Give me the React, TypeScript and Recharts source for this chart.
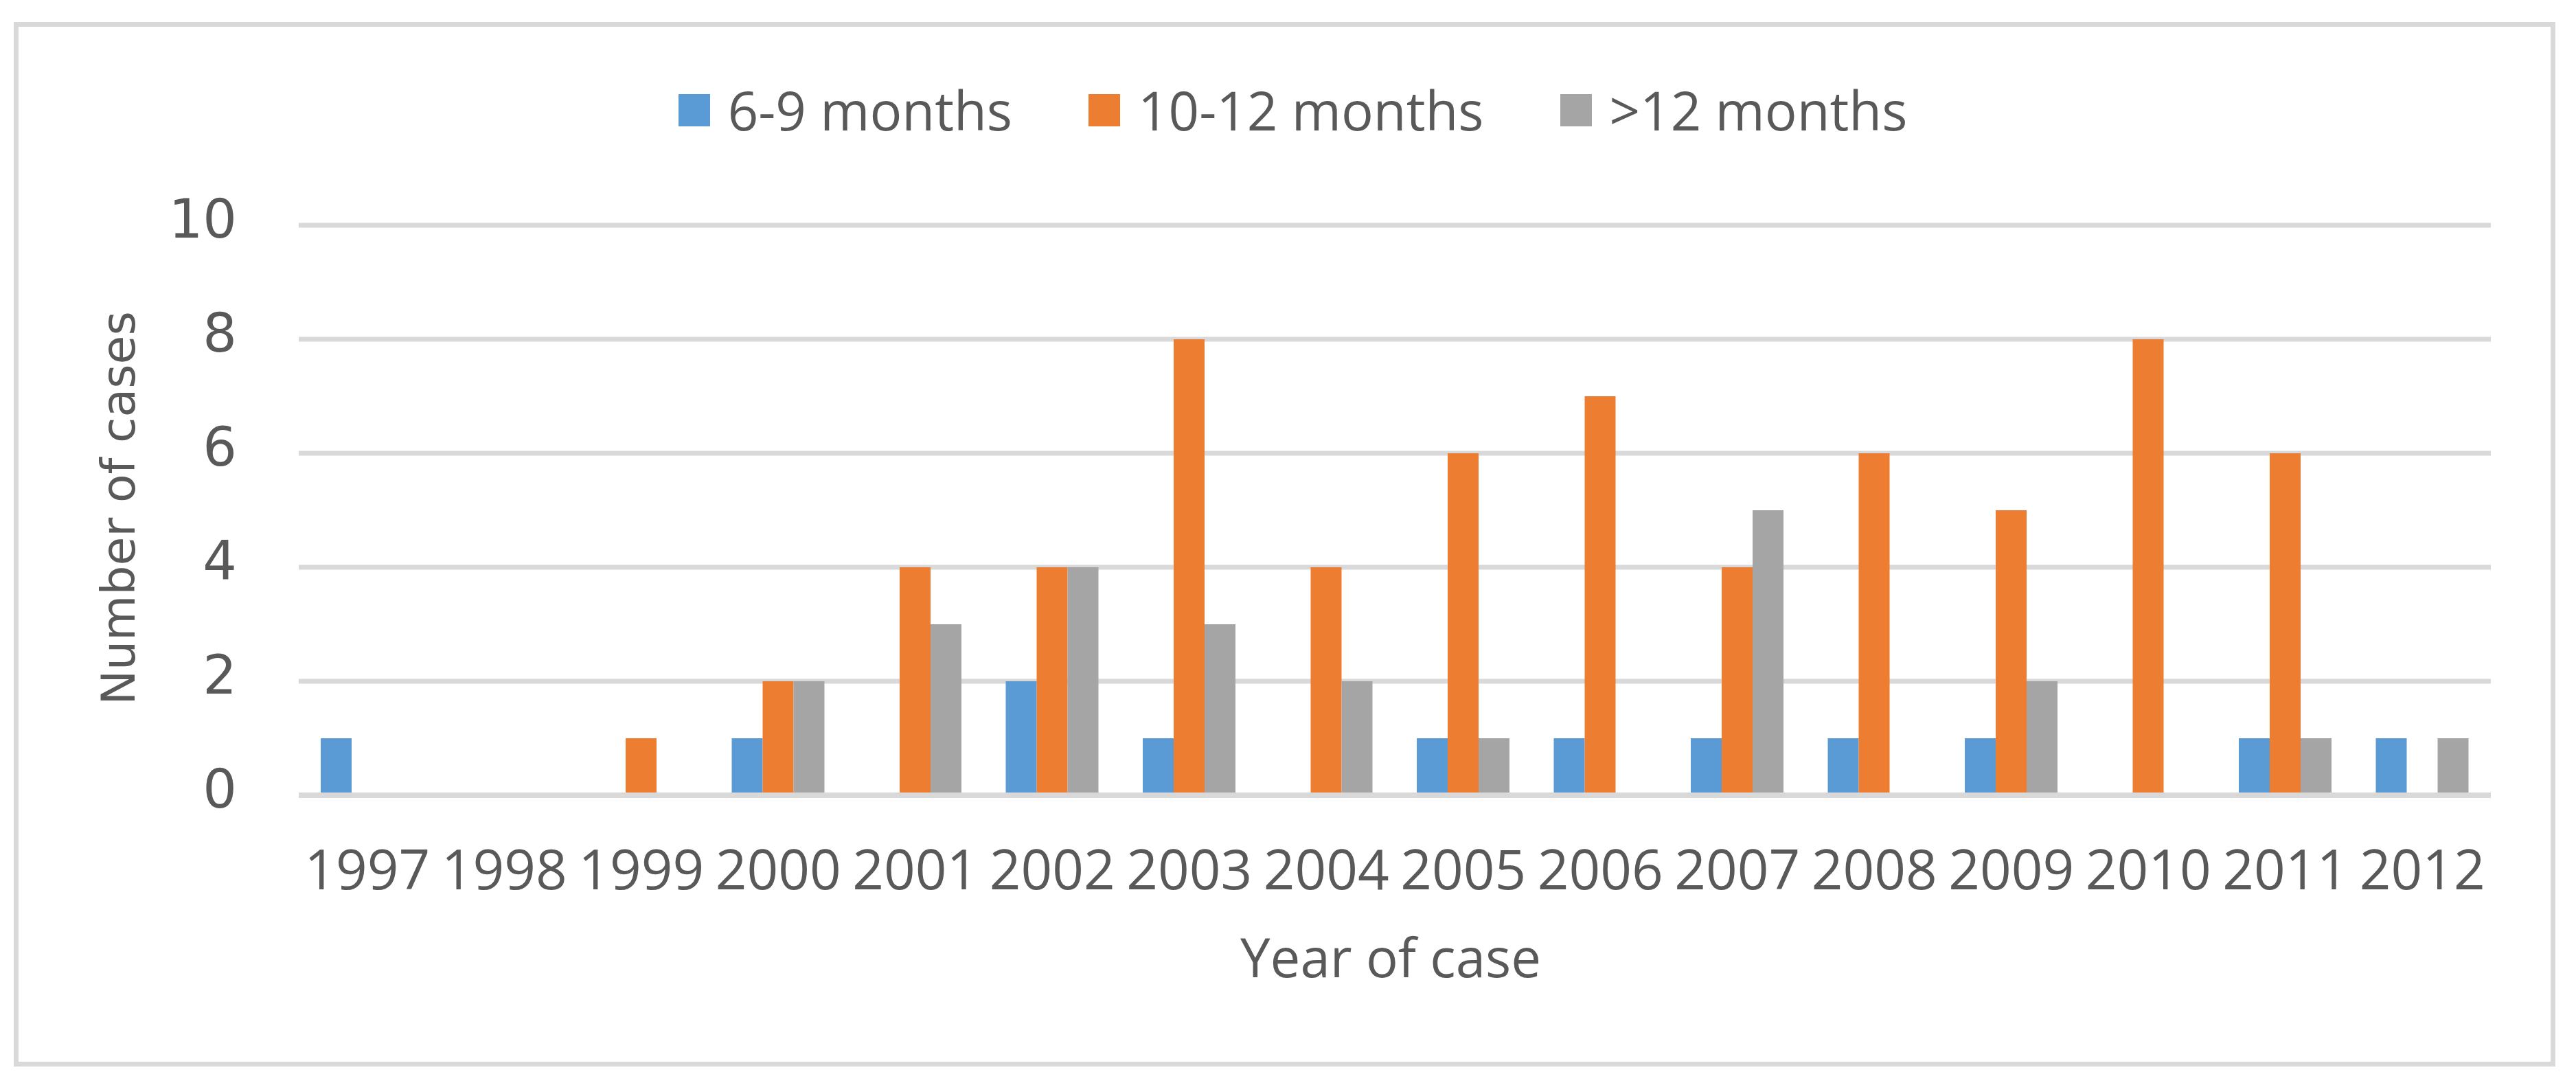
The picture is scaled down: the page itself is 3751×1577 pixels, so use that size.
import React from "react";
import {
	BarChart,
	Bar,
	XAxis,
	YAxis,
	CartesianGrid,
	Legend,
} from "recharts";

const years = [
	"1997", "1998", "1999", "2000", "2001", "2002", "2003", "2004",
	"2005", "2006", "2007", "2008", "2009", "2010", "2011", "2012",
];
const seriesNames = ["6-9 months", "10-12 months", ">12 months"];
const sixToNine = [1, 0, 0, 1, 0, 2, 1, 0, 1, 1, 1, 1, 1, 0, 1, 1];
const tenToTwelve = [0, 0, 1, 2, 4, 4, 8, 4, 6, 7, 4, 6, 5, 8, 6, 0];
const overTwelve = [0, 0, 0, 2, 3, 4, 3, 2, 1, 0, 5, 0, 2, 0, 1, 1];
const yTicks = [0, 2, 4, 6, 8, 10];

const data = years.map((year, i) => ({
	year,
	a: sixToNine[i],
	b: tenToTwelve[i],
	c: overTwelve[i],
}));

const TEXT = "#595959";
const GRID = "#d9d9d9";
const SANS = "'Open Sans', sans-serif";

function renderLegend(props: any) {
	// keep the series order, recharts sorts legend items by name
	const items = [...(props.payload || [])].sort(
		(p: any, q: any) => seriesNames.indexOf(p.value) - seriesNames.indexOf(q.value)
	);
	return (
		<div
			style={{
				display: "flex",
				justifyContent: "center",
				alignItems: "center",
				height: 80,
				paddingLeft: 14,
			}}
		>
			{items.map((entry: any, i: number) => (
				<div
					key={entry.value}
					style={{
						display: "flex",
						alignItems: "center",
						marginLeft: i === 0 ? 0 : 111,
					}}
				>
					<span
						style={{
							display: "inline-block",
							width: 46,
							height: 47,
							background: entry.color,
							marginRight: 26,
						}}
					/>
					<span
						style={{
							fontFamily: SANS,
							fontSize: 78,
							color: TEXT,
							lineHeight: "80px",
						}}
					>
						{entry.value}
					</span>
				</div>
			))}
		</div>
	);
}

export default function App() {
	return (
		<div
			style={{
				position: "absolute",
				left: 0,
				top: 0,
				width: 3751,
				height: 1577,
				background: "#fff",
			}}
		>
			<div
				style={{
					position: "absolute",
					left: 20,
					top: 32,
					width: 3701,
					height: 1521,
					boxSizing: "border-box",
					border: `7px solid ${GRID}`,
				}}
			/>
			<div style={{ position: "absolute", left: 0, top: 0 }}>
				<BarChart
					width={3751}
					height={1577}
					data={data}
					margin={{ top: 248, right: 124, left: 0, bottom: 0 }}
					barGap={0}
					barSize={45}
				>
					<CartesianGrid vertical={false} stroke={GRID} strokeWidth={7} />
					<XAxis
						dataKey="year"
						height={419}
						tickLine={false}
						axisLine={{ stroke: GRID, strokeWidth: 8 }}
						tickMargin={74}
						interval={0}
						tick={{ fontFamily: SANS, fontSize: 80, fill: TEXT }}
						label={{
							content: (p: any) => {
								const vb = p.viewBox;
								return (
									<text
										x={vb.x + vb.width / 2 - 6}
										y={vb.y + 265}
										textAnchor="middle"
										fontFamily={SANS}
										fontSize={78}
										fill={TEXT}
									>
										Year of case
									</text>
								);
							},
						}}
					/>
					<YAxis
						width={435}
						domain={[0, 10]}
						ticks={yTicks}
						tickLine={false}
						axisLine={false}
						tickMargin={84}
						tick={{
							fontFamily: "'DejaVu Sans', sans-serif",
							fontSize: 78,
							fill: TEXT,
							dy: -10,
						}}
						label={{
							content: (p: any) => {
								const vb = p.viewBox;
								const cx = vb.x + 196;
								const cy = vb.y + vb.height / 2 - 3;
								return (
									<text
										x={cx}
										y={cy}
										transform={`rotate(-90, ${cx}, ${cy})`}
										textAnchor="middle"
										fontFamily="'DejaVu Sans', sans-serif"
										fontSize={68}
										fill={TEXT}
									>
										Number of cases
									</text>
								);
							},
						}}
					/>
					<Legend
						verticalAlign="top"
						content={renderLegend}
						wrapperStyle={{ top: 120, left: 0, width: 3751 }}
					/>
					<Bar dataKey="a" name={seriesNames[0]} fill="#5B9BD5" isAnimationActive={false} />
					<Bar dataKey="b" name={seriesNames[1]} fill="#ED7D31" isAnimationActive={false} />
					<Bar dataKey="c" name={seriesNames[2]} fill="#A5A5A5" isAnimationActive={false} />
				</BarChart>
			</div>
		</div>
	);
}
